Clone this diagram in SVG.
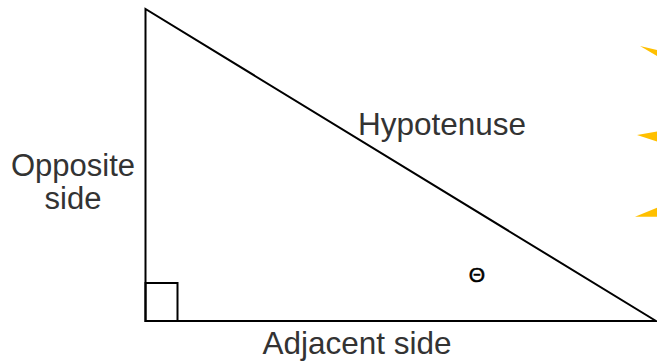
<svg xmlns="http://www.w3.org/2000/svg" width="657" height="362" viewBox="0 0 657 362">
<style>
.edge{fill:none;stroke:#000;stroke-width:2;stroke-linejoin:miter}
.lbl{font-family:"Liberation Sans",Arial,sans-serif;font-size:31.5px;fill:#333}
.ray{fill:#FFC000;stroke:none}
</style>
<rect width="657" height="362" fill="#fff"/>
<g id="triangle">
<path class="edge" d="M145.5,9 L145.5,321 L656,321 Z"/>
</g>
<g id="right-angle">
<rect class="edge" x="145.5" y="283" width="32" height="38"/>
</g>
<g id="rays">
<polygon class="ray" points="640,46 657,50 657,56"/>
<polygon class="ray" points="637,135 657,131.5 657,141.5"/>
<polygon class="ray" points="635,216.7 657,207.7 657,216.7"/>
</g>
<g id="label-hypotenuse">
<text class="lbl" x="442" y="134.5" text-anchor="middle">Hypotenuse</text>
</g>
<g id="label-opposite">
<text class="lbl" x="73" y="175.5" text-anchor="middle" style="font-size:31px">Opposite</text>
<text class="lbl" x="73" y="208.5" text-anchor="middle" style="font-size:31px">side</text>
</g>
<g id="label-adjacent">
<text class="lbl" x="357" y="354" text-anchor="middle">Adjacent side</text>
</g>
<g id="label-theta">
<text x="477" y="282" text-anchor="middle" style="font-family:'Liberation Sans',Arial,sans-serif;font-size:21px;fill:#000;stroke:#000;stroke-width:0.5">Θ</text>
</g>
</svg>
